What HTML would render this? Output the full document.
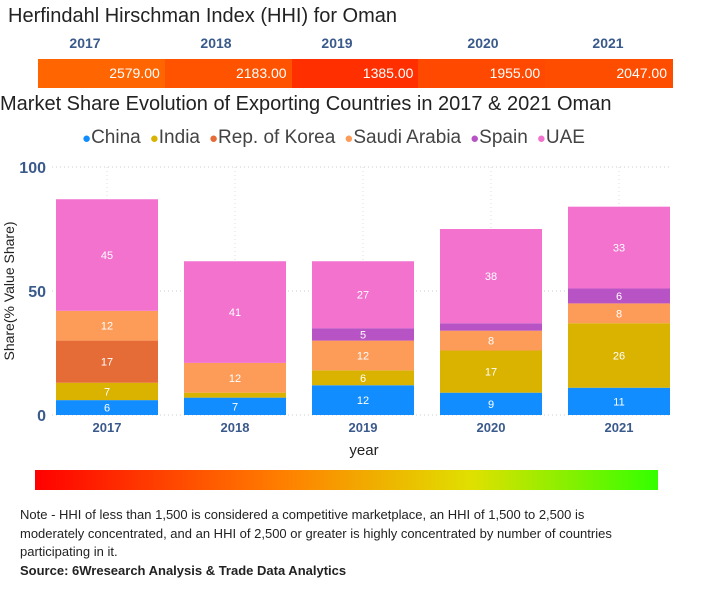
<!DOCTYPE html>
<html><head><meta charset="utf-8"><style>
body{margin:0;width:713px;height:600px;background:#fff;font-family:"Liberation Sans","DejaVu Sans",sans-serif;overflow:hidden;position:relative}
.abs{position:absolute}
</style></head><body>
<div class="abs" style="left:8px;top:5px;font-size:20px;color:#222">Herfindahl Hirschman Index (HHI) for Oman</div>
<div id="hhi"></div>
<div class="abs" style="left:0;top:93px;font-size:20px;color:#222">Market Share Evolution of Exporting Countries in 2017 &amp; 2021 Oman</div>
<div id="legend" class="abs" style="left:82px;top:127px;font-size:19px;color:#444;white-space:nowrap"></div>
<svg id="chart" class="abs" style="left:0;top:150px" width="713" height="310"></svg>
<div class="abs" style="left:35px;top:470px;width:623px;height:20px;background:linear-gradient(90deg,#ff0000,#ff8000 40%,#e0e000 70%,#33ff00)"></div>
<div class="abs" style="left:20px;top:506px;width:625px;font-size:13px;line-height:18.5px;color:#222">Note - HHI of less than 1,500 is considered a competitive marketplace, an HHI of 1,500 to 2,500 is moderately concentrated, and an HHI of 2,500 or greater is highly concentrated by number of countries participating in it.<br><b>Source: 6Wresearch Analysis &amp; Trade Data Analytics</b></div>
<script>
const years=["2017","2018","2019","2020","2021"];
const hhiValues=[2579,2183,1385,1955,2047];
const seriesNames=["China","India","Rep. of Korea","Saudi Arabia","Spain","UAE"];
const china=[6,7,12,9,11];
const india=[7,2,6,17,26];
const korea=[17,0,0,0,0];
const saudi=[12,12,12,8,8];
const spain=[0,0,5,3,6];
const uae=[45,41,27,38,33];
const yTicks=[0,50,100];
const colors=["#118dff","#d9b300","#e66c37","#fd9b59","#b853c5","#f272ce"];
const series=[china,india,korea,saudi,spain,uae];

const labelCenters=[85,216,337,483,608];
function hhiColor(v){const t=Math.max(0,Math.min(1,(v-1000)/2000));return `rgb(255,${Math.round(30+t*90)},0)`;}
const sx=38,sw=634/years.length;
years.forEach((y,i)=>{
 const l=document.createElement('div');l.className='abs';
 
 
 l.style.cssText=`left:${labelCenters[i]-30}px;top:35px;width:60px;text-align:center;font-size:14px;font-weight:bold;color:#3a5a8c`;
 l.textContent=y;document.body.appendChild(l);
 const c=document.createElement('div');c.className='abs';
 
 
 c.style.cssText=`left:${sx+i*sw}px;top:59px;width:${sw+1}px;height:29px;background:${hhiColor(hhiValues[i])};color:#fff;font-size:14px;text-align:right;line-height:29px;box-sizing:border-box;padding-right:6px`;
 c.textContent=hhiValues[i].toFixed(2);document.body.appendChild(c);
});

const lg=document.getElementById('legend');
seriesNames.forEach((n,i)=>{
 const s=document.createElement('span');
 
 
 s.style.marginRight='9px';
 s.innerHTML=`<span style="color:${colors[i]};font-size:15px">●</span>${n}`;
 lg.appendChild(s);
});

const svg=document.getElementById('chart');const NS='http://www.w3.org/2000/svg';
const top0=150,base=415-top0,scale=2.48;
const yPos=v=>base-v*scale;
const x0=56,step=128,bw=102;
const xPos=i=>x0+i*step;
function el(t,a,p){const e=document.createElementNS(NS,t);for(const k in a)e.setAttribute(k,a[k]);(p||svg).appendChild(e);return e;}
yTicks.forEach(t=>{
 const g=el('line',{x1:52,x2:672,y1:yPos(t),y2:yPos(t),stroke:'#ccc','stroke-dasharray':'1,3'});
 
 
 const tx=el('text',{x:46,y:yPos(t)+6,'text-anchor':'end','font-size':16,'font-weight':'bold',fill:'#3a5a8c'});
 
 
 tx.textContent=t;
});
years.forEach((y,i)=>{
 const cx=xPos(i)+bw/2;
 const vl=el('line',{x1:cx,x2:cx,y1:yPos(100),y2:base,stroke:'#ddd','stroke-dasharray':'1,3'});
 
 
 let acc=0;
 series.forEach((s,k)=>{
  const v=s[i];if(!v)return;
  const r=el('rect',{x:xPos(i),y:yPos(acc+v),width:bw,height:v*scale,fill:colors[k]});
  
  
  if(v>=4){const t=el('text',{x:cx,y:yPos(acc+v/2)+4,'text-anchor':'middle','font-size':11,fill:'#fff'});
   
   
   t.textContent=v;}
  acc+=v;
 });
 const xl=el('text',{x:cx,y:base+17,'text-anchor':'middle','font-size':13,'font-weight':'bold',fill:'#3a5a8c'});
 
 
 xl.textContent=y;
});
const xt=el('text',{x:364,y:base+40,'text-anchor':'middle','font-size':15,fill:'#222'});


xt.textContent='year';
const yt=el('text',{x:0,y:0,'text-anchor':'middle','font-size':14,fill:'#222',transform:`translate(14,${yPos(50)}) rotate(-90)`});


yt.textContent='Share(% Value Share)';
</script>
</body></html>
